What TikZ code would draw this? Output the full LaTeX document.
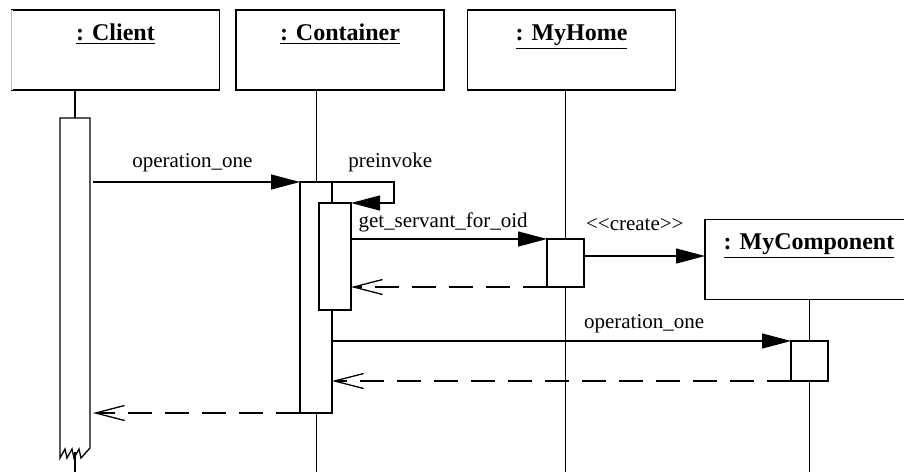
\documentclass[tikz,border=0pt]{standalone}
\usepackage{fontspec}
\setmainfont{Liberation Serif}
\usetikzlibrary{arrows.meta}

\tikzset{
  objbox/.style={draw, line width=0.65pt, minimum width=104pt, minimum height=40pt, inner sep=0pt, outer sep=0pt},
  objname/.style={font=\fontsize{12}{14}\selectfont\bfseries, anchor=base, inner sep=0pt},
  actbox/.style={draw, fill=white, line width=0.65pt, inner sep=0pt, outer sep=0pt},
  life/.style={line width=0.65pt},
  thinlife/.style={line width=0.35pt},
  msg/.style={line width=0.65pt, -{Triangle[length=14.5pt,width=7.5pt]}},
  reply/.style={line width=0.65pt, dash pattern=on 12pt off 6.5pt, -{Straight Barb[length=14.5pt,width=7.5pt]}},
  lbl/.style={font=\fontsize{10.5}{12}\selectfont, anchor=base, inner sep=0pt},
}

\begin{document}
\begin{tikzpicture}[x=0.5pt, y=-0.5pt]
    \useasboundingbox (0,0) rectangle (904,472);
    \coordinate (bottom) at (0,472);

    % objects
    \path
    node[objbox] (client) at (115.5,50) {}
    node[objbox] (container) at (340,50) {}
    node[objbox] (myhome) at (571.5,50) {}
    node[objbox] (mycomp) at (809,259.5) {};
    \draw[white, line width=1pt] (client.north west) -- (client.south west);
    \draw[black!25, line width=0.5pt] (client.north west) -- (client.south west);
    \foreach \o/\t in {client/Client, container/Container, myhome/MyHome, mycomp/MyComponent}
      \node[objname] at ([yshift=-15pt]\o.north) {\underline{: \t}};

    % activations
    \path
    node[actbox, draw=none, fill=none, minimum width=15pt, minimum height=165pt] (clientact) at (75,283) {}
    node[actbox, minimum width=16pt, minimum height=115.5pt] (contact) at (316,297.5) {}
    node[actbox, minimum width=16pt, minimum height=53.5pt] (innerct) at (335,256.5) {}
    node[actbox, minimum width=18.5pt, minimum height=24pt] (homeact) at (565.5,263) {}
    node[actbox, minimum width=18.5pt, minimum height=20pt] (compact) at (809.5,361) {};
    \draw[life, fill=white] (clientact.south east) -- (clientact.north east) -- (clientact.north west)
      -- (clientact.south west) -- ++(0,10) -- ++(5,-9) -- ++(2,9) -- ++(5,-9) -- ++(2,9)
      -- ++(5,-9) -- ++(2,9) -- cycle;

    % lifelines
    \draw[life] (clientact.north |- client.south) -- (clientact.north);
    \draw[life] ([yshift=-2pt]clientact.south) -- (clientact.south |- bottom);
    \draw[thinlife] (contact.north |- container.south) -- (contact.north);
    \draw[thinlife] (contact.south) -- (contact.south |- bottom);
    \draw[life] (homeact.north |- myhome.south) -- (homeact.north);
    \draw[life] (homeact.south) -- (homeact.south |- bottom);
    \draw[life] (compact.north |- mycomp.south) -- (compact.north);
    \draw[life] (compact.south) -- (compact.south |- bottom);

    % messages
    \draw[msg] ([xshift=1.5pt]clientact.east |- contact.north) -- node[lbl, pos=0.48, yshift=7.5pt] {operation\_one} (contact.north west);
    \draw[msg] (contact.north east) -- node[lbl, pos=0.94, yshift=7.5pt] {preinvoke} ++(62,0) |- (innerct.north east);
    \draw[msg] (innerct.east |- homeact.north) -- node[lbl, pos=0.47, yshift=6pt] {get\_servant\_for\_oid} (homeact.north west);
    \draw[reply] (homeact.south west) -- (innerct.east |- homeact.south);
    \draw[msg] (homeact.east |- 0,256) -- node[lbl, pos=0.42, yshift=13pt] {{<}{<}create{>}{>}} (mycomp.west |- 0,256);
    \draw[msg] (contact.east |- compact.north) -- node[lbl, pos=0.68, yshift=6.5pt] {operation\_one} (compact.north west);
    \draw[reply] (compact.south west) -- (contact.east |- compact.south);
    \draw[reply] (contact.south west) -- ([xshift=1.5pt]clientact.east |- contact.south);
\end{tikzpicture}
\end{document}
